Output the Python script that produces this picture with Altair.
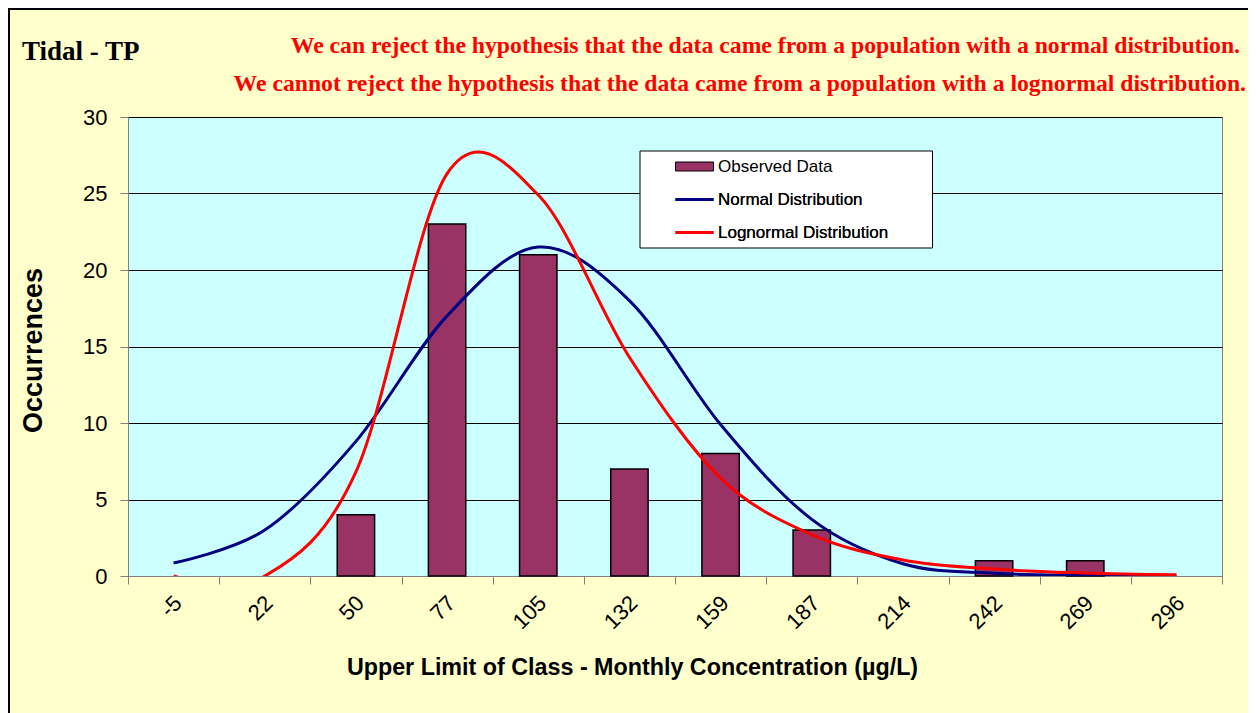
import altair as alt
import pandas as pd

# ---------------- data ----------------
categories = ["-5", "22", "50", "77", "105", "132", "159", "187", "214", "242", "269", "296"]
observed = [0, 0, 4, 23, 21, 7, 8, 3, 0, 1, 1, 0]
normal = [0.85, 3.0, 8.8, 17.0, 21.5, 18.0, 9.9, 3.7, 0.8, 0.18, 0.05, 0.01]
lognormal = [0.0, 0.0, 6.8, 26.3, 24.9, 14.3, 6.4, 2.7, 1.05, 0.45, 0.2, 0.08]

series_names = ["Observed Data", "Normal Distribution", "Lognormal Distribution"]
series_colors = ["#993366", "#000080", "#FF0000"]
y_ticks = [0, 5, 10, 15, 20, 25, 30]

chart_title = "Tidal - TP"
note_lines = [
    "We can reject the hypothesis that the data came from a population with a normal distribution.",
    "We cannot reject the hypothesis that the data came from a population with a lognormal distribution.",
]
x_title = "Upper Limit of Class - Monthly Concentration (µg/L)"
y_title = "Occurrences"

# ---------------- layout ----------------
W, H = 1094, 459
SANS = "Liberation Sans"
SERIF = "Liberation Serif"

bars_df = pd.DataFrame({"cls": categories, "value": observed, "series": series_names[0]})
norm_df = pd.DataFrame({"cls": categories, "value": normal, "series": series_names[1]})
logn_df = pd.DataFrame({"cls": categories, "value": lognormal, "series": series_names[2]})

legend_common = dict(
    title=None,
    orient="none",
    padding=0,
    symbolSize=100,
    labelOffset=34,
    labelLimit=400,
    labelFont=SANS,
    labelFontSize=17,
    labelColor="black",
    rowPadding=15,
)

fill_enc = alt.Fill(
    "series:N",
    scale=alt.Scale(domain=series_names[:1], range=series_colors[:1]),
    legend=alt.Legend(
        legendX=539, legendY=41,
        symbolType="M0,-0.9H7.6V0.9H0Z",
        symbolStrokeColor="black",
        symbolStrokeWidth=1,
        symbolOpacity=1,
        **legend_common,
    ),
)

stroke_enc = alt.Stroke(
    "series:N",
    scale=alt.Scale(domain=series_names[1:], range=series_colors[1:]),
    legend=alt.Legend(
        legendX=539, legendY=74,
        symbolType="M0,0H7.6",
        symbolStrokeWidth=3,
        symbolFillColor="transparent",
        symbolOpacity=1,
        **legend_common,
    ),
)

x_enc = alt.X(
    "cls:O",
    sort=categories,
    scale=alt.Scale(domain=categories, paddingInner=0, paddingOuter=0),
    axis=alt.Axis(
        title=x_title,
        labelAngle=-45,
        labelAlign="right",
        labelBaseline="top",
        labelFont=SANS,
        labelFontSize=22,
        labelColor="black",
        labelPadding=8,
        labelOffset=-3,
        tickSize=8,
        tickColor="#808080",
        domainColor="#808080",
        tickBand="extent",
        grid=False,
        titleFont=SANS,
        titleFontSize=23.3,
        titleFontWeight="bold",
        titleColor="black",
        titleX=504,
        titleY=98,
        titleBaseline="alphabetic",
        titleAlign="center",
    ),
)

y_enc = alt.Y(
    "value:Q",
    scale=alt.Scale(domain=[0, 30], nice=False),
    axis=alt.Axis(
        values=y_ticks,
        title=y_title,
        labelFont=SANS,
        labelFontSize=22,
        labelColor="black",
        labelPadding=13,
        tickSize=8,
        tickColor="#808080",
        domainColor="#808080",
        grid=True,
        gridColor="black",
        gridWidth=1,
        titleFont=SANS,
        titleFontSize=27,
        titleFontWeight="bold",
        titleColor="black",
        titleAngle=-90,
        titleX=-95,
        titleY=233,
        titleAlign="center",
        titleBaseline="middle",
    ),
)

bars = alt.Chart(bars_df).transform_filter(
    "datum.value > 0"
).mark_bar(
    width=alt.RelativeBandSize(0.41), stroke="black", strokeWidth=1.5
).encode(x=x_enc, y=y_enc, fill=fill_enc)

norm_line = alt.Chart(norm_df).mark_line(
    interpolate="cardinal", tension=0, strokeWidth=3, clip=True
).encode(x=x_enc, y=y_enc, stroke=stroke_enc)

logn_line = alt.Chart(logn_df).mark_line(
    interpolate="cardinal", tension=0, strokeWidth=3, clip=True
).encode(x=x_enc, y=y_enc, stroke=stroke_enc)


def text_layer(txt, x, y, size, col, align, font):
    return alt.Chart(pd.DataFrame({"t": [txt]})).mark_text(
        align=align, baseline="alphabetic", font=font, fontSize=size,
        fontWeight="bold", color=col
    ).encode(x=alt.value(x), y=alt.value(y), text="t:N")


one = pd.DataFrame({"k": [0]})
border = alt.Chart(one).mark_rect(
    fillOpacity=0, stroke="black", strokeWidth=2
).encode(
    x=alt.value(-119), x2=alt.value(W + 200), y=alt.value(-108), y2=alt.value(H + 300)
)

legend_box = alt.Chart(one).mark_rect(
    fill="white", stroke="black", strokeWidth=1
).encode(
    x=alt.value(512), x2=alt.value(804.5), y=alt.value(34), y2=alt.value(131)
)

t_title = text_layer(chart_title, -106, -57, 27, "black", "left", SERIF)
t_n1 = text_layer(note_lines[0], 1112, -64, 23.7, "#FF0000", "right", SERIF)
t_n2 = text_layer(note_lines[1], 1118, -26.5, 23.7, "#FF0000", "right", SERIF)

chart = alt.layer(
    border, bars, norm_line, logn_line, legend_box, t_title, t_n1, t_n2
).resolve_scale(
    fill="independent", stroke="independent"
).properties(
    width=W,
    height=H,
    background="#FFFFCC",
    autosize=alt.AutoSizeParams(type="none"),
    padding={"left": 120, "top": 109, "right": 26, "bottom": 137},
).configure_view(
    fill="#CCFFFF", stroke="#808080", strokeWidth=1
)

chart.save("out.html", embed_options={"renderer": "svg", "actions": False})
